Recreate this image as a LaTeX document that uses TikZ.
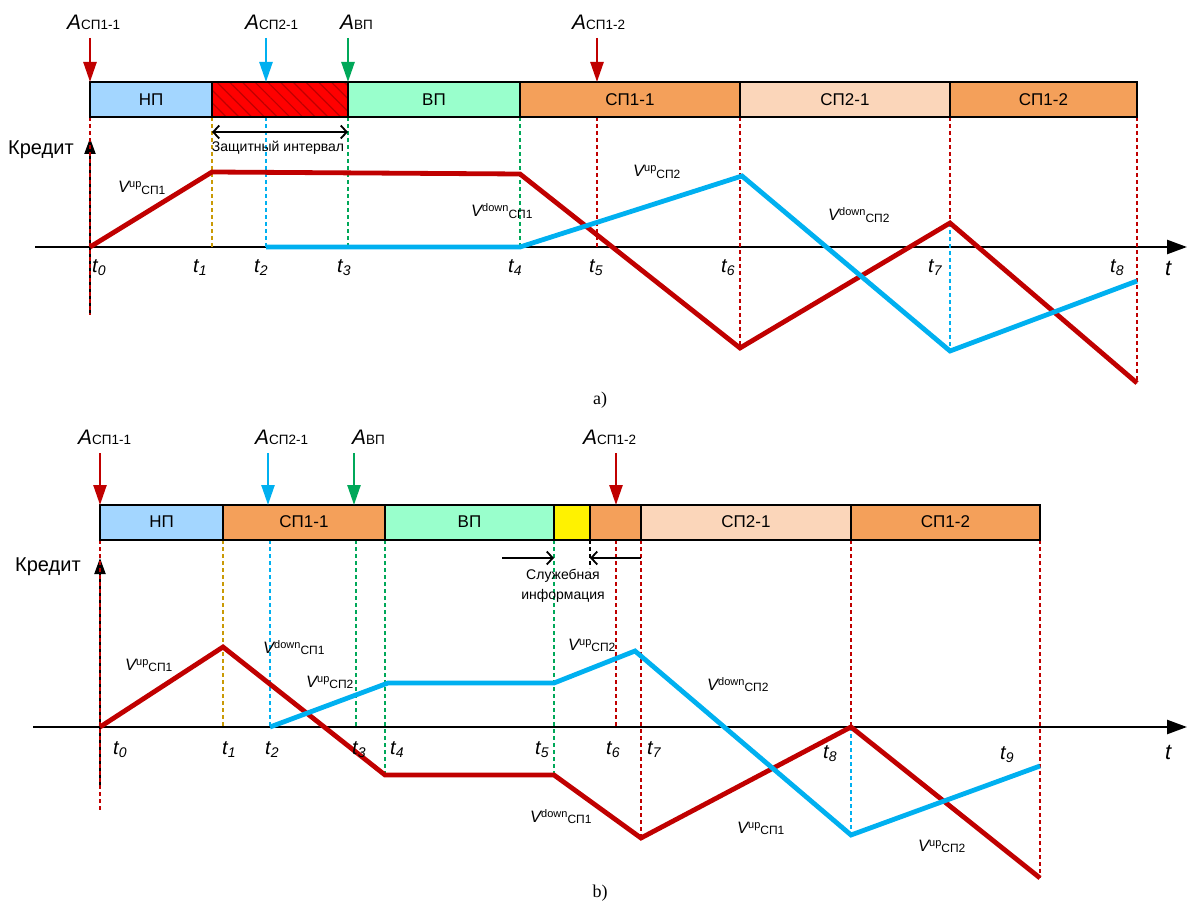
\documentclass[tikz,border=0pt]{standalone}
\usepackage{fontspec}
\setmainfont{Liberation Sans}
\newfontfamily\capfont{Liberation Serif}
\usetikzlibrary{arrows.meta,patterns.meta}

\definecolor{crvred}{HTML}{C00000}
\definecolor{crvblue}{HTML}{00B0F0}
\definecolor{ptrgreen}{HTML}{00A859}
\definecolor{guidegold}{HTML}{C99A06}
\definecolor{npfill}{HTML}{A3D6FF}
\definecolor{vpfill}{HTML}{99FFCC}
\definecolor{spfill}{HTML}{F4A05A}
\definecolor{sptwofill}{HTML}{FBD6BA}

\newcommand{\Alab}[1]{{\fontsize{21}{21}\selectfont\itshape A}{\fontsize{13.5}{13.5}\selectfont #1}}
\newcommand{\Vlab}[2]{{\fontsize{16.5}{16.5}\selectfont\itshape V}\raisebox{5pt}{\fontsize{11}{11}\selectfont #1}\raisebox{-1.5pt}{\fontsize{12}{12}\selectfont #2}}
\newcommand{\tlab}[1]{{\fontsize{20}{20}\selectfont\itshape t}\raisebox{-3pt}{\fontsize{14}{14}\selectfont\itshape #1}}

\tikzset{
  segbox/.style={draw=black, line width=2.2pt},
  segtext/.style={font=\fontsize{17}{17}\selectfont},
  crvR/.style={crvred, line width=4.8pt},
  crvB/.style={crvblue, line width=4.8pt},
  guide/.style={line width=2pt, dash pattern=on 4pt off 3pt},
  timeaxis/.style={line width=2.5pt, -{Triangle[length=20pt,width=14pt]}},
  creditaxis/.style={line width=2pt, -{Triangle[length=16pt,width=11pt]}},
  pointer/.style={line width=2.5pt, -{Triangle[length=20pt,width=13pt]}},
  bothways/.style={line width=1.8pt, {Straight Barb[length=6pt,width=13pt]}-{Straight Barb[length=6pt,width=13pt]}},
  oneway/.style={line width=1.8pt, -{Straight Barb[length=6pt,width=13pt]}},
  lbl/.style={inner sep=0pt, anchor=base west},
  small/.style={inner sep=0pt, anchor=base, font=\fontsize{14}{14}\selectfont},
  credit/.style={inner sep=0pt, anchor=base west, font=\fontsize{20}{20}\selectfont},
  caption/.style={font=\capfont\fontsize{18}{18}\selectfont}
}

\begin{document}
\begin{tikzpicture}[x=1pt, y=-1pt]
  \useasboundingbox (0,0) rectangle (1187,909);

  % ---------------- a) ----------------
  \draw [timeaxis] (35,247) -- (1187,247);
  \draw [creditaxis] (90,315) -- (90,138);
  \node [credit] (a-credit) at (8,155) {Кредит};

  \draw [guide, crvred] (90,117) -- (90,315);
  \draw [guide, guidegold] (212,117) -- (212,247);
  \draw [guide, crvblue] (266,117) -- (266,247);
  \draw [guide, ptrgreen] (348,117) -- (348,247);
  \draw [guide, ptrgreen] (520,117) -- (520,247);
  \draw [guide, crvred] (597,117) -- (597,247);
  \draw [guide, crvred] (740,117) -- (740,348);
  \draw [guide, crvred] (950,117) -- (950,223);
  \draw [guide, crvblue] (950,223) -- (950,351);
  \draw [guide, crvred] (1137,117) -- (1137,383);

  \foreach \xa/\xb/\col/\txt/\nm in {90/212/npfill/НП/np, 348/520/vpfill/ВП/vp,
      520/740/spfill/СП1-1/spa, 740/950/sptwofill/СП2-1/spb, 950/1137/spfill/СП1-2/spc}
  {
    \draw [segbox, fill=\col] (\xa,82) rectangle (\xb,117);
    \node [segtext] (a-\nm) at ({(\xa+\xb)/2},100) {\txt};
  }
  \fill [red] (212,82) rectangle (348,117);
  \fill [pattern={Lines[angle=-45,distance=9pt,line width=1.2pt]}, pattern color=red!75!black] (212,82) rectangle (348,117);
  \draw [segbox] (212,82) rectangle (348,117);

  \node [lbl] (a-A1) at (67,30) {\Alab{СП1-1}};
  \node [lbl] (a-A2) at (245,30) {\Alab{СП2-1}};
  \node [lbl] (a-A3) at (340,30) {\Alab{ВП}};
  \node [lbl] (a-A4) at (572,30) {\Alab{СП1-2}};
  \draw [pointer, crvred] (90,38) -- (90,82);
  \draw [pointer, crvblue] (266,38) -- (266,82);
  \draw [pointer, ptrgreen] (348,38) -- (348,82);
  \draw [pointer, crvred] (597,38) -- (597,82);

  \draw [bothways] (212,132) -- (348,132);
  \node [small] (a-guard) at (278,152) {Защитный интервал};

  \draw [crvR] (90,247) -- (212,172) -- (520,174) -- (740,348) -- (950,223) -- (1137,383);
  \draw [crvB] (266,247) -- (520,247) -- (742,176) -- (950,351) -- (1137,281);

  \node [lbl] (a-v1) at (118,193) {\Vlab{up}{СП1}};
  \node [lbl] (a-v2) at (633,177) {\Vlab{up}{СП2}};
  \node [lbl] (a-v3) at (471,217) {\Vlab{down}{СП1}};
  \node [lbl] (a-v4) at (828,221) {\Vlab{down}{СП2}};

  \foreach \xt/\i in {92/0, 193/1, 254/2, 337/3, 508/4, 589/5, 721/6, 928/7, 1110/8}
    \node [lbl] (a-t\i) at (\xt,273) {\tlab{\i}};
  \node [lbl] (a-t) at (1165,276) {\fontsize{22}{22}\selectfont\itshape t};

  \node [caption] (a-cap) at (600,400) {a)};

  % ---------------- b) ----------------
  \draw [timeaxis] (33,727) -- (1187,727);
  \draw [creditaxis] (100,785) -- (100,558);
  \node [credit] (b-credit) at (15,571) {Кредит};

  \draw [guide, crvred] (100,540) -- (100,812);
  \draw [guide, guidegold] (223,540) -- (223,727);
  \draw [guide, crvblue] (270,540) -- (270,727);
  \draw [guide, ptrgreen] (356,540) -- (356,727);
  \draw [guide, ptrgreen] (385,540) -- (385,775);
  \draw [guide, ptrgreen] (554,540) -- (554,775);
  \draw [guide, black] (590,540) -- (590,568);
  \draw [guide, crvred] (616,540) -- (616,727);
  \draw [guide, crvred] (641,540) -- (641,838);
  \draw [guide, crvred] (851,540) -- (851,727);
  \draw [guide, crvblue] (851,727) -- (851,835);
  \draw [guide, crvred] (1040,540) -- (1040,878);

  \foreach \xa/\xb/\col/\txt/\nm in {100/223/npfill/НП/np, 223/385/spfill/СП1-1/spa,
      385/554/vpfill/ВП/vp, 554/590/yellow//srv, 590/641/spfill//spd,
      641/851/sptwofill/СП2-1/spb, 851/1040/spfill/СП1-2/spc}
  {
    \draw [segbox, fill=\col] (\xa,505) rectangle (\xb,540);
    \node [segtext] (b-\nm) at ({(\xa+\xb)/2},522) {\txt};
  }

  \node [lbl] (b-A1) at (78,445) {\Alab{СП1-1}};
  \node [lbl] (b-A2) at (255,445) {\Alab{СП2-1}};
  \node [lbl] (b-A3) at (352,445) {\Alab{ВП}};
  \node [lbl] (b-A4) at (583,445) {\Alab{СП1-2}};
  \draw [pointer, crvred] (100,453) -- (100,505);
  \draw [pointer, crvblue] (268,453) -- (268,505);
  \draw [pointer, ptrgreen] (354,453) -- (354,505);
  \draw [pointer, crvred] (616,453) -- (616,505);

  \draw [oneway] (502,558) -- (554,558);
  \draw [oneway] (641,558) -- (590,558);
  \node [small] (b-srv1) at (563,579) {Служебная};
  \node [small] (b-srv2) at (563,599) {информация};

  \draw [crvR] (100,727) -- (223,647) -- (385,775) -- (554,775) -- (641,838) -- (851,727) -- (1040,878);
  \draw [crvB] (270,727) -- (388,683) -- (554,683) -- (635,651) -- (851,835) -- (1040,766);

  \node [lbl] (b-v1) at (125,670) {\Vlab{up}{СП1}};
  \node [lbl] (b-v2) at (263,653) {\Vlab{down}{СП1}};
  \node [lbl] (b-v3) at (306,687) {\Vlab{up}{СП2}};
  \node [lbl] (b-v4) at (568,650) {\Vlab{up}{СП2}};
  \node [lbl] (b-v5) at (707,690) {\Vlab{down}{СП2}};
  \node [lbl] (b-v6) at (530,822) {\Vlab{down}{СП1}};
  \node [lbl] (b-v7) at (737,833) {\Vlab{up}{СП1}};
  \node [lbl] (b-v8) at (918,851) {\Vlab{up}{СП2}};

  \foreach \xt/\yt/\i in {113/754/0, 222/754/1, 265/754/2, 352/754/3, 390/754/4, 535/754/5,
      606/754/6, 647/754/7, 823/758/8, 1000/759/9}
    \node [lbl] (b-t\i) at (\xt,\yt) {\tlab{\i}};
  \node [lbl] (b-t) at (1165,759) {\fontsize{22}{22}\selectfont\itshape t};

  \node [caption] (b-cap) at (600,893) {b)};
\end{tikzpicture}
\end{document}
